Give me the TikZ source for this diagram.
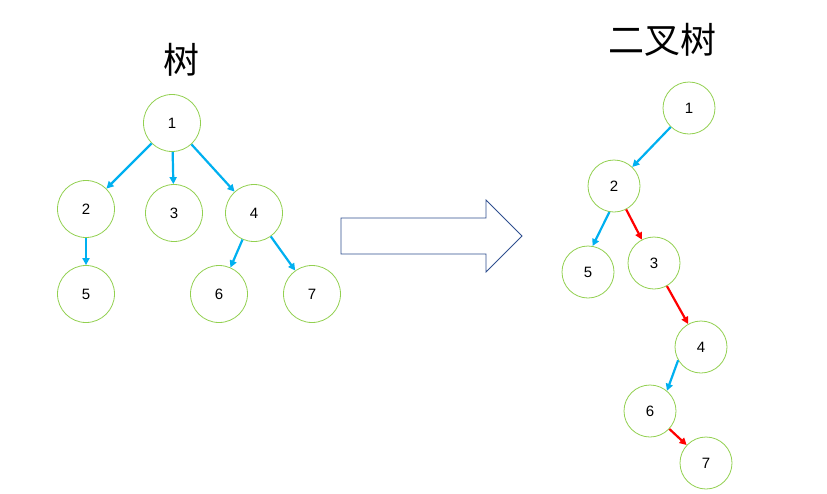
\documentclass[tikz,border=0pt]{standalone}
\usepackage{fontspec}
\setmainfont{Liberation Sans}
\newfontfamily\cjk{Noto Sans CJK SC}
\usetikzlibrary{arrows.meta}
\definecolor{gr}{HTML}{92D050}
\definecolor{bl}{HTML}{00B0F0}
\definecolor{nv}{HTML}{2F4F8F}
\begin{document}
\begin{tikzpicture}[x=1pt,y=-1pt,
  nd/.style={circle,draw=gr,fill=white,line width=0.8pt,minimum size=57pt,inner sep=0pt,font=\fontsize{15}{15}\selectfont},
  ndr/.style={nd,minimum size=52pt},
  ba/.style={draw=bl,line width=2.2pt,-{Triangle[length=7pt,width=7pt]}},
  ra/.style={draw=red,line width=2.2pt,-{Triangle[length=7pt,width=7pt]}}]
\useasboundingbox (0,0) rectangle (827,493);
\node[font=\cjk\fontsize{36}{36}\selectfont] (t1) at (181,60) {树};
\node[font=\cjk\fontsize{36}{36}\selectfont] (t2) at (662,40) {二叉树};
\node[nd] (a1) at (172,123) {1};
\node[nd] (a2) at (86,209) {2};
\node[nd] (a3) at (174,213) {3};
\node[nd] (a4) at (254,213) {4};
\node[nd] (a5) at (86,294) {5};
\node[nd] (a6) at (219,294) {6};
\node[nd] (a7) at (312,294) {7};
\draw[ba] (a1) -- (a2);
\draw[ba] (a1) -- (a3);
\draw[ba] (a1) -- (a4);
\draw[ba] (a2) -- (a5);
\draw[ba] (a4) -- (a6);
\draw[ba] (a4) -- (a7);
\node[ndr] (b1) at (689,108) {1};
\node[ndr] (b2) at (614,186) {2};
\node[ndr] (b5) at (588,272) {5};
\node[ndr] (b3) at (654,263) {3};
\node[ndr] (b4) at (701,347) {4};
\node[ndr] (b6) at (650,411) {6};
\node[ndr] (b7) at (706,463) {7};
\draw[ba] (b1) -- (b2);
\draw[ba] (b2.260) -- (b5.80);
\draw[ra] (b2) -- (b3);
\draw[ra] (b3) -- (b4);
\draw[ba] (b4.210) -- (b6.50);
\draw[ra] (b6) -- (b7);
\draw[nv,fill=white,line width=0.8pt] (341,218) -- (486,218) -- (486,200) -- (522,236) -- (486,272) -- (486,254) -- (341,254) -- cycle;
\end{tikzpicture}
\end{document}
